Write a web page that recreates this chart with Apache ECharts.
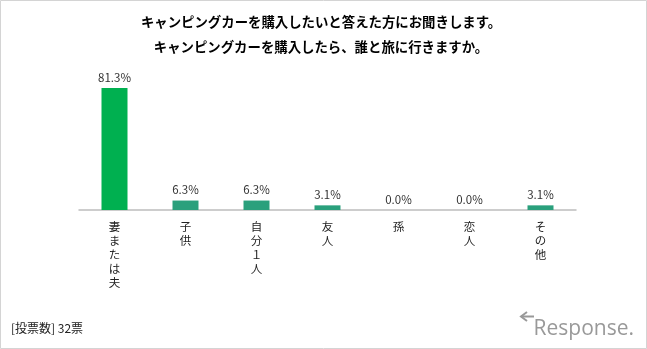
<!DOCTYPE html>
<html><head><meta charset="utf-8">
<script src="https://cdn.jsdelivr.net/npm/echarts@6/dist/echarts.min.js"></script>
<style>html,body{margin:0;padding:0;background:#fff}#c{width:647px;height:349px}</style>
</head><body><div id="c"></div>
<script>
const titleLines = ['キャンピングカーを購入したいと答えた方にお聞きします。', 'キャンピングカーを購入したら、誰と旅に行きますか。'];
const categories = ['妻または夫', '子供', '自分１人', '友人', '孫', '恋人', 'その他'];
const values = [81.3, 6.3, 6.3, 3.1, 0.0, 0.0, 3.1];
const barColors = ['#00b050', '#2aa07c', '#2aa07c', '#2aa07c', '#2aa07c', '#2aa07c', '#2aa07c'];
const footnote = '[投票数] 32票';
const logoText = 'Response.';

const font = '"Noto Sans CJK JP", "Noto Sans", sans-serif';
const chart = echarts.init(document.getElementById('c'), null, {renderer: 'canvas'});
chart.setOption({
  backgroundColor: '#fff',
  animation: false,
  grid: {left: 79, right: 71, top: 60, bottom: 139},
  xAxis: {
    type: 'category',
    data: categories,
    axisLine: {lineStyle: {color: '#bdbdbd', width: 1.5}},
    axisTick: {show: false},
    axisLabel: {
      interval: 0, margin: 10, color: '#222', fontSize: 11.5, fontFamily: font, lineHeight: 14,
      formatter: v => v.split('').join('\n')
    }
  },
  yAxis: {type: 'value', min: 0, max: 100, show: false},
  series: [{
    type: 'bar',
    barWidth: 26,
    data: values.map((v, i) => ({value: v, itemStyle: {color: barColors[i]}})),
    label: {
      show: true, position: 'top', distance: 5, color: '#333', fontSize: 11.5, fontFamily: font,
      formatter: p => p.value.toFixed(1) + '%'
    }
  }],
  graphic: [
    {type: 'rect', shape: {x: 0.5, y: 0.5, width: 646, height: 348}, style: {fill: 'none', stroke: '#d4d4d4', lineWidth: 1}},
    {type: 'text', x: 321, y: 22, style: {text: titleLines[0], fontSize: 13.4, fontWeight: 'bold', fontFamily: font, fill: '#000', align: 'center', verticalAlign: 'middle'}},
    {type: 'text', x: 321, y: 47, style: {text: titleLines[1], fontSize: 13.4, fontWeight: 'bold', fontFamily: font, fill: '#000', align: 'center', verticalAlign: 'middle'}},
    {type: 'text', x: 11, y: 328, style: {text: footnote, fontSize: 12, fontFamily: font, fill: '#222', verticalAlign: 'middle'}},
    {type: 'text', x: 634, y: 329, style: {text: logoText, fontSize: 21, fontFamily: '"Open Sans", "DejaVu Sans", sans-serif', fill: '#999', align: 'right', verticalAlign: 'middle'}},
    {type: 'polyline', shape: {points: [[527, 312], [521, 316.5], [527, 321]]}, style: {stroke: '#999', lineWidth: 2, fill: 'none'}},
    {type: 'line', shape: {x1: 521, y1: 316.5, x2: 534, y2: 316.5}, style: {stroke: '#999', lineWidth: 2}}
  ]
});
</script></body></html>
